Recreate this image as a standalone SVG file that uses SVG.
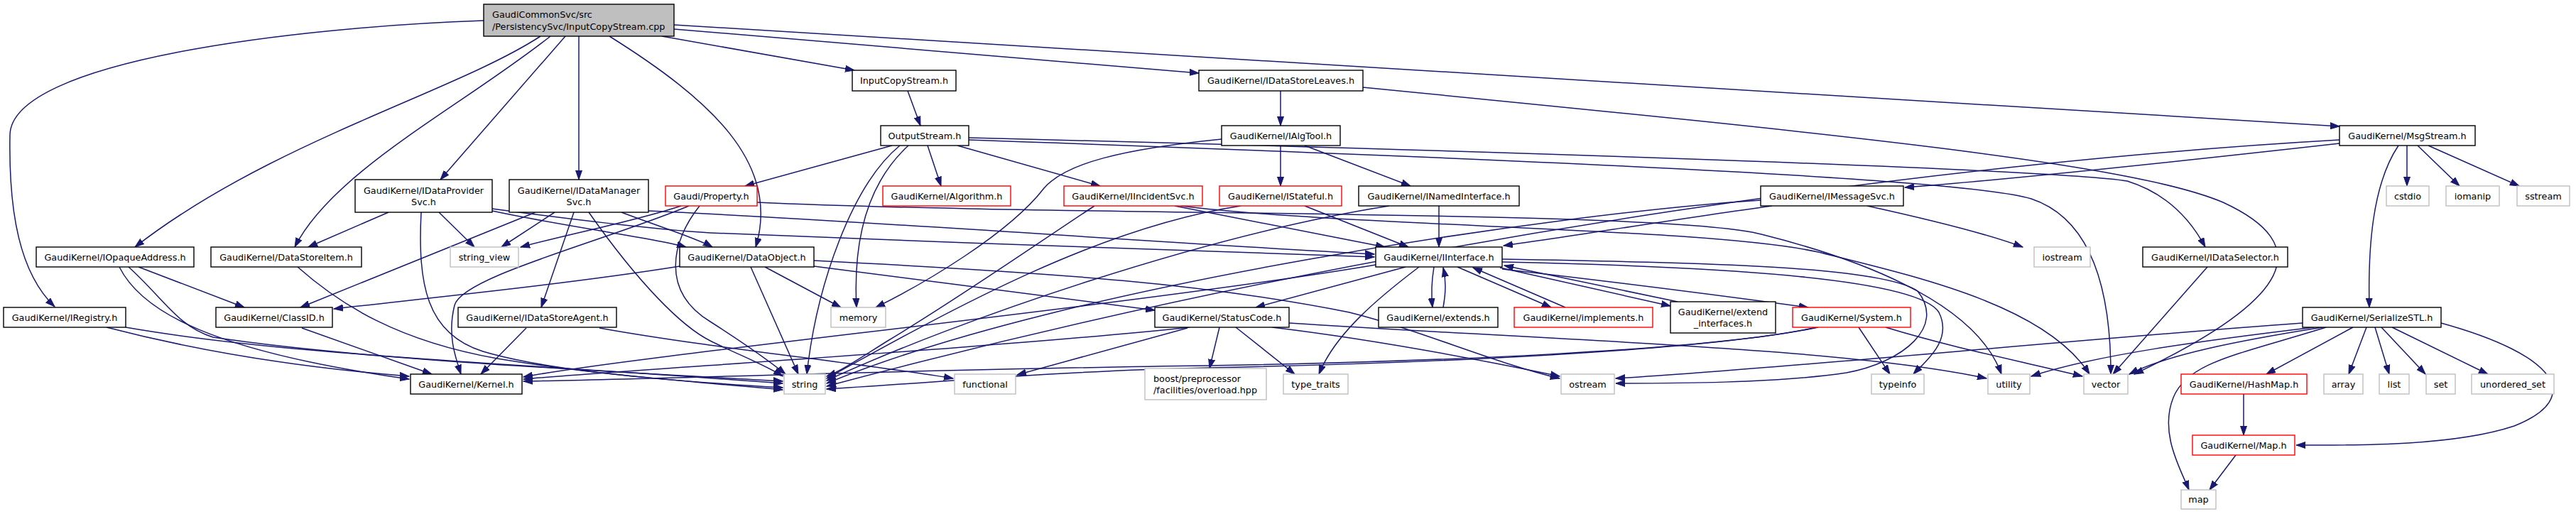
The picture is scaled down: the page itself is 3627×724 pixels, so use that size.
<svg xmlns="http://www.w3.org/2000/svg" width="3627" height="724" viewBox="0 0 3627 724">
<style>
rect{fill:#fff;stroke:#000;stroke-width:1.4}
rect.g{stroke:#bfbfbf}
rect.r{stroke:#ff0000}
rect.root{fill:#bfbfbf}
text{font-family:"DejaVu Sans","Liberation Sans",sans-serif;font-size:12.8px;fill:#000;text-anchor:middle}
text.l{text-anchor:start}
#edges path{fill:none;stroke:#191970;stroke-width:1.5;marker-end:url(#a)}
</style>
<defs>
<marker id="a" markerWidth="14" markerHeight="10" refX="13" refY="5" orient="auto" markerUnits="userSpaceOnUse"><path d="M0,0.5 L13,5 L0,9.5 Z" fill="#191970" stroke="#191970" stroke-width="1"/></marker>
</defs>
<rect x="0" y="0" width="3627" height="724" style="fill:#fff;stroke:none"/>
<g id="edges">
<path d="M681,29 C420,38 16,85 14,190 C12,300 28,385 77,432"/>
<path d="M761,51 C640,130 380,200 190,348"/>
<path d="M775,51 C650,150 470,240 415,348"/>
<path d="M796,51 L620,253"/>
<path d="M815,51 L815,253"/>
<path d="M858,51 C1000,140 1100,230 1064,348"/>
<path d="M932,51 L1203,99"/>
<path d="M949,41 L1688,103"/>
<path d="M949,35 L3294,178"/>
<path d="M1278,128 L1296,177"/>
<path d="M1803,128 L1803,177"/>
<path d="M1919,123 C2600,190 3000,230 3130,285 C3260,345 3230,420 3005,527"/>
<path d="M1256,205 L1049,262"/>
<path d="M1306,205 L1325,262"/>
<path d="M1348,205 L1549,262"/>
<path d="M1279,205 C1230,250 1200,320 1206,433"/>
<path d="M1267,205 C1200,260 1150,400 1136,527"/>
<path d="M1364,194 C2200,215 2900,240 2995,255 C3060,275 3090,320 3105,348"/>
<path d="M1364,197 C2300,230 2780,255 2860,280 C2950,310 2972,420 2972,527"/>
<path d="M1720,196 C1580,210 1500,230 1470,265 C1420,330 1300,400 1233,433"/>
<path d="M1803,205 L1803,262"/>
<path d="M1837,205 L1986,262"/>
<path d="M1654,290 L1950,348"/>
<path d="M1541,290 C1450,350 1350,420 1250,480 C1210,505 1185,522 1164,530"/>
<path d="M1663,290 C1900,320 2400,320 2560,355 C2700,390 2880,430 2942,527"/>
<path d="M1747,290 C1550,320 1350,430 1164,533"/>
<path d="M1837,290 L1983,348"/>
<path d="M2026,290 L2026,348"/>
<path d="M1956,290 C1700,330 1350,450 1164,536"/>
<path d="M2495,290 C2350,310 2200,335 2117,346"/>
<path d="M2629,290 C2720,310 2800,330 2848,348"/>
<path d="M2479,282 C2200,300 1500,400 1164,540"/>
<path d="M3294,202 C3000,235 2800,255 2682,264"/>
<path d="M3294,197 C2800,225 2000,320 1164,544"/>
<path d="M3377,205 C3340,260 3334,350 3336,433"/>
<path d="M3389,205 L3389,262"/>
<path d="M3404,205 L3463,262"/>
<path d="M3419,205 L3547,262"/>
<path d="M150,461 C300,500 450,520 576,530"/>
<path d="M177,461 C400,500 700,510 1102,540"/>
<path d="M168,376 C200,440 300,495 576,534"/>
<path d="M181,376 C230,420 250,460 300,475 C500,505 800,520 1102,537"/>
<path d="M195,376 L344,433"/>
<path d="M419,376 C480,430 560,480 700,505 C850,530 1000,540 1102,546"/>
<path d="M547,299 L434,348"/>
<path d="M618,299 L668,348"/>
<path d="M593,299 C588,400 600,470 680,495 C780,525 950,535 1102,549"/>
<path d="M693,297 C800,320 920,335 966,348"/>
<path d="M693,294 C850,315 950,325 1000,328 C1300,340 1700,355 1935,362"/>
<path d="M754,299 L423,433"/>
<path d="M781,299 L706,348"/>
<path d="M808,299 L762,433"/>
<path d="M829,299 C900,400 960,460 1000,480 C1040,500 1080,515 1102,530"/>
<path d="M875,299 C930,320 980,335 1003,348"/>
<path d="M913,297 C1200,310 1600,340 1935,358"/>
<path d="M425,462 L608,527"/>
<path d="M741,462 L677,527"/>
<path d="M844,462 C1000,490 1200,510 1342,533"/>
<path d="M959,290 C900,310 800,330 733,348"/>
<path d="M970,290 C850,340 650,390 640,430 C630,470 640,500 649,527"/>
<path d="M985,290 C945,340 930,410 1000,453 C1050,485 1085,510 1106,527"/>
<path d="M1066,285 C1500,305 2350,295 2480,330 C2600,360 2780,420 2818,527"/>
<path d="M957,375 C800,400 600,420 470,435"/>
<path d="M1077,376 L1184,433"/>
<path d="M1057,376 L1124,527"/>
<path d="M1146,375 C1300,395 1500,420 1626,437"/>
<path d="M1146,367 C1500,385 1700,400 1900,440 C2000,465 2100,510 2196,533"/>
<path d="M1937,373 C1600,430 900,500 737,531"/>
<path d="M1979,376 L1768,433"/>
<path d="M1998,376 C1940,420 1880,470 1857,527"/>
<path d="M2019,376 C2015,400 2015,415 2017,433"/>
<path d="M2032,433 C2036,410 2036,395 2032,377"/>
<path d="M2052,376 L2184,433"/>
<path d="M2204,433 L2074,377"/>
<path d="M2112,377 L2352,431"/>
<path d="M2362,425 L2118,374"/>
<path d="M2115,379 C2300,400 2450,420 2546,433"/>
<path d="M2115,365 C2400,370 2650,375 2700,410 C2740,460 2680,510 2600,525 C2500,540 2350,540 2275,540"/>
<path d="M2115,369 C2400,375 2700,390 2730,440 C2750,480 2710,510 2694,527"/>
<path d="M1675,461 C1400,490 900,520 737,534"/>
<path d="M1672,462 L1432,528"/>
<path d="M1717,461 L1703,519"/>
<path d="M1740,461 L1823,527"/>
<path d="M1791,461 C1950,480 2100,510 2196,530"/>
<path d="M1815,455 C2200,480 2600,490 2797,533"/>
<path d="M2560,461 C2400,495 2000,510 1700,515 C1300,520 900,535 737,537"/>
<path d="M2558,461 C2400,495 2000,512 1700,518 C1500,522 1300,540 1164,548"/>
<path d="M2617,461 L2661,527"/>
<path d="M2655,461 C2750,490 2850,510 2932,530"/>
<path d="M3108,376 L2975,527"/>
<path d="M3242,455 C2900,480 2500,520 2275,533"/>
<path d="M3258,461 C3100,480 2950,500 2860,530"/>
<path d="M3270,461 C3150,480 3050,500 2998,527"/>
<path d="M3275,461 C3150,500 3080,510 3060,560 C3040,610 3070,660 3082,690"/>
<path d="M3313,461 L3191,527"/>
<path d="M3332,461 L3307,527"/>
<path d="M3344,461 L3364,527"/>
<path d="M3353,461 L3415,527"/>
<path d="M3368,461 L3503,527"/>
<path d="M3437,455 C3600,500 3640,560 3540,600 C3450,630 3300,627 3233,627"/>
<path d="M3159,555 L3159,613"/>
<path d="M3148,641 L3111,690"/>
</g>
<g id="root"><rect class="root" x="681" y="6" width="268" height="45"/><text class="l" x="693" y="25">GaudiCommonSvc/src</text><text class="l" x="693" y="41.5">/PersistencySvc/InputCopyStream.cpp</text></g>
<g id="InputCopyStream"><rect x="1200" y="99" width="146" height="29"/><text x="1273" y="118">InputCopyStream.h</text></g>
<g id="IDataStoreLeaves"><rect x="1688" y="99" width="231" height="29"/><text x="1803.5" y="118">GaudiKernel/IDataStoreLeaves.h</text></g>
<g id="OutputStream"><rect x="1240" y="177" width="124" height="28"/><text x="1302" y="195.5">OutputStream.h</text></g>
<g id="IAlgTool"><rect x="1720" y="177" width="167" height="28"/><text x="1803.5" y="195.5">GaudiKernel/IAlgTool.h</text></g>
<g id="MsgStream"><rect x="3294" y="177" width="191" height="28"/><text x="3389.5" y="195.5">GaudiKernel/MsgStream.h</text></g>
<g id="IDataProviderSvc"><rect x="500" y="253" width="193" height="46"/><text x="596.5" y="272.5">GaudiKernel/IDataProvider</text><text x="596.5" y="289">Svc.h</text></g>
<g id="IDataManagerSvc"><rect x="717" y="253" width="196" height="46"/><text x="815" y="272.5">GaudiKernel/IDataManager</text><text x="815" y="289">Svc.h</text></g>
<g id="Property"><rect class="r" x="937" y="262" width="129" height="28"/><text x="1001.5" y="280.7">Gaudi/Property.h</text></g>
<g id="Algorithm"><rect class="r" x="1243" y="262" width="180" height="28"/><text x="1333" y="280.7">GaudiKernel/Algorithm.h</text></g>
<g id="IIncidentSvc"><rect class="r" x="1498" y="262" width="195" height="28"/><text x="1595.5" y="280.7">GaudiKernel/IIncidentSvc.h</text></g>
<g id="IStateful"><rect class="r" x="1717" y="262" width="172" height="28"/><text x="1803" y="280.7">GaudiKernel/IStateful.h</text></g>
<g id="INamedInterface"><rect x="1913" y="262" width="226" height="28"/><text x="2026" y="280.7">GaudiKernel/INamedInterface.h</text></g>
<g id="IMessageSvc"><rect x="2479" y="262" width="201" height="28"/><text x="2579.5" y="280.7">GaudiKernel/IMessageSvc.h</text></g>
<g id="cstdio"><rect class="g" x="3360" y="262" width="60" height="28"/><text x="3390" y="280.7">cstdio</text></g>
<g id="iomanip"><rect class="g" x="3444" y="262" width="75" height="28"/><text x="3481.5" y="280.7">iomanip</text></g>
<g id="sstream"><rect class="g" x="3544" y="262" width="74" height="28"/><text x="3581" y="280.7">sstream</text></g>
<g id="IOpaqueAddress"><rect x="51" y="348" width="222" height="28"/><text x="162" y="366.7">GaudiKernel/IOpaqueAddress.h</text></g>
<g id="DataStoreItem"><rect x="297" y="348" width="212" height="28"/><text x="403" y="366.7">GaudiKernel/DataStoreItem.h</text></g>
<g id="string_view"><rect class="g" x="634" y="348" width="96" height="28"/><text x="682" y="366.7">string_view</text></g>
<g id="DataObject"><rect x="957" y="348" width="189" height="28"/><text x="1051.5" y="366.7">GaudiKernel/DataObject.h</text></g>
<g id="IInterface"><rect x="1937" y="348" width="178" height="28"/><text x="2026" y="366.7">GaudiKernel/IInterface.h</text></g>
<g id="iostream"><rect class="g" x="2864" y="348" width="79" height="28"/><text x="2903.5" y="366.7">iostream</text></g>
<g id="IDataSelector"><rect x="3017" y="348" width="204" height="28"/><text x="3119" y="366.7">GaudiKernel/IDataSelector.h</text></g>
<g id="IRegistry"><rect x="5" y="433" width="172" height="28"/><text x="91" y="451.7">GaudiKernel/IRegistry.h</text></g>
<g id="ClassID"><rect x="304" y="433" width="164" height="28"/><text x="386" y="451.7">GaudiKernel/ClassID.h</text></g>
<g id="IDataStoreAgent"><rect x="645" y="433" width="223" height="28"/><text x="756.5" y="451.7">GaudiKernel/IDataStoreAgent.h</text></g>
<g id="memory"><rect class="g" x="1170" y="433" width="77" height="28"/><text x="1208.5" y="451.7">memory</text></g>
<g id="StatusCode"><rect x="1626" y="433" width="189" height="28"/><text x="1720.5" y="451.7">GaudiKernel/StatusCode.h</text></g>
<g id="extends"><rect x="1941" y="433" width="168" height="28"/><text x="2025" y="451.7">GaudiKernel/extends.h</text></g>
<g id="implements"><rect class="r" x="2132" y="433" width="195" height="28"/><text x="2229.5" y="451.7">GaudiKernel/implements.h</text></g>
<g id="extend_interfaces"><rect x="2352" y="425" width="148" height="44"/><text x="2426" y="443.5">GaudiKernel/extend</text><text x="2426" y="460">_interfaces.h</text></g>
<g id="System"><rect class="r" x="2524" y="433" width="166" height="28"/><text x="2607" y="451.7">GaudiKernel/System.h</text></g>
<g id="SerializeSTL"><rect x="3242" y="433" width="195" height="28"/><text x="3339.5" y="451.7">GaudiKernel/SerializeSTL.h</text></g>
<g id="Kernel"><rect x="578" y="527" width="157" height="28"/><text x="656.5" y="545.7">GaudiKernel/Kernel.h</text></g>
<g id="string"><rect class="g" x="1104" y="527" width="58" height="28"/><text x="1133" y="545.7">string</text></g>
<g id="functional"><rect class="g" x="1344" y="527" width="86" height="28"/><text x="1387" y="545.7">functional</text></g>
<g id="boost_overload"><rect class="g" x="1612" y="519" width="171" height="44"/><text class="l" x="1624" y="537.5">boost/preprocessor</text><text class="l" x="1624" y="554">/facilities/overload.hpp</text></g>
<g id="type_traits"><rect class="g" x="1807" y="527" width="91" height="28"/><text x="1852.5" y="545.7">type_traits</text></g>
<g id="ostream"><rect class="g" x="2198" y="527" width="75" height="28"/><text x="2235.5" y="545.7">ostream</text></g>
<g id="typeinfo"><rect class="g" x="2635" y="527" width="74" height="28"/><text x="2672" y="545.7">typeinfo</text></g>
<g id="utility"><rect class="g" x="2799" y="527" width="59" height="28"/><text x="2828.5" y="545.7">utility</text></g>
<g id="vector"><rect class="g" x="2934" y="527" width="62" height="28"/><text x="2965" y="545.7">vector</text></g>
<g id="HashMap"><rect class="r" x="3071" y="527" width="177" height="28"/><text x="3159.5" y="545.7">GaudiKernel/HashMap.h</text></g>
<g id="array"><rect class="g" x="3272" y="527" width="55" height="28"/><text x="3299.5" y="545.7">array</text></g>
<g id="list"><rect class="g" x="3350" y="527" width="42" height="28"/><text x="3371" y="545.7">list</text></g>
<g id="set"><rect class="g" x="3416" y="527" width="41" height="28"/><text x="3436.5" y="545.7">set</text></g>
<g id="unordered_set"><rect class="g" x="3480" y="527" width="116" height="28"/><text x="3538" y="545.7">unordered_set</text></g>
<g id="Map"><rect class="r" x="3087" y="613" width="144" height="28"/><text x="3159" y="631.7">GaudiKernel/Map.h</text></g>
<g id="map"><rect class="g" x="3071" y="690" width="49" height="27"/><text x="3095.5" y="708">map</text></g>
</svg>
